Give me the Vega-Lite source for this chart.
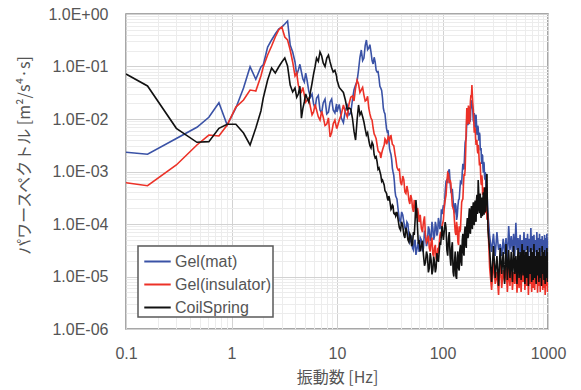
{
  "$schema": "https://vega.github.io/schema/vega-lite/v6.json",
  "width": 422,
  "height": 315,
  "autosize": {"type": "none"},
  "padding": {"left": 126, "top": 14, "right": 33, "bottom": 61},
  "background": "white",
  "config": {
    "font": "Liberation Sans",
    "view": {"stroke": "#8a8a8a", "strokeWidth": 1.5},
    "legend": {
      "orient": "bottom-left",
      "offset": 12,
      "strokeColor": "#5a5a5a",
      "strokeWidth": 1.5,
      "fillColor": "white",
      "padding": 1,
      "labelFont": "Liberation Sans",
      "labelFontSize": 16,
      "labelColor": "#555555",
      "symbolType": "stroke",
      "symbolStrokeWidth": 2,
      "symbolSize": 700,
      "symbolOffset": 4,
      "rowPadding": 0,
      "labelOffset": 3
    }
  },
  "data": {
    "values": [
      {"f": 0.1, "m": 2.32e-3, "i": 6.12e-4, "c": 7.2e-2},
      {"f": 0.16, "m": 2.13e-3, "i": 5.37e-4, "c": 4.26e-2},
      {"f": 0.3, "m": 4.26e-3, "i": 1.33e-3, "c": 6.65e-3},
      {"f": 0.47, "m": 6.95e-3, "i": 3.2e-3, "c": 3.6e-3},
      {"f": 0.61, "m": 1.08e-2, "i": 4.95e-3, "c": 3.7e-3},
      {"f": 0.76, "m": 2.04e-2, "i": 4.74e-3, "c": 6.65e-3},
      {"f": 0.91, "m": 7.69e-3, "i": 7.69e-3, "c": 7.92e-3},
      {"f": 1.1, "m": 1.62e-2, "i": 1.69e-2, "c": 7.92e-3},
      {"f": 1.3, "m": 3.89e-2, "i": 2.3e-2, "c": 5.41e-3},
      {"f": 1.5, "m": 9.9e-2, "i": 3.56e-2, "c": 3.2e-3},
      {"f": 1.7, "m": 5.7e-2, "i": 3.41e-2, "c": 6.74e-3},
      {"f": 1.9, "m": 9.78e-2, "i": 6.59e-2, "c": 1.42e-2},
      {"f": 2.0, "m": 0.107, "i": 9.78e-2, "c": 2.51e-2},
      {"f": 2.2, "m": 0.235, "i": 0.166, "c": 5.53e-2},
      {"f": 2.4, "m": 0.32, "i": 0.246, "c": 9.36e-2},
      {"f": 2.6, "m": 0.416, "i": 0.365, "c": 7.52e-2},
      {"f": 2.8, "m": 0.518, "i": 0.496, "c": 9.78e-2},
      {"f": 3.0, "m": 0.565, "i": 0.565, "c": 0.122},
      {"f": 3.2, "m": 0.645, "i": 0.365, "c": 0.145},
      {"f": 3.4, "m": 0.736, "i": 0.32, "c": 0.102},
      {"f": 3.6, "m": 0.257, "i": 0.206, "c": 4.44e-2},
      {"f": 3.8, "m": 0.189, "i": 0.122, "c": 3.27e-2},
      {"f": 4.0, "m": 0.122, "i": 6.59e-2, "c": 3.89e-2},
      {"f": 4.15, "m": 0.068, "i": 0.075, "c": 0.026},
      {"f": 4.3, "m": 8.58e-2, "i": 4.44e-2, "c": 2.99e-2},
      {"f": 4.45, "m": 0.11, "i": 0.036, "c": 0.042},
      {"f": 4.6, "m": 7.85e-2, "i": 3.27e-2, "c": 1.04e-2},
      {"f": 4.75, "m": 0.058, "i": 0.04, "c": 0.016},
      {"f": 4.9, "m": 5.07e-2, "i": 2.87e-2, "c": 2.11e-2},
      {"f": 5.05, "m": 0.075, "i": 0.021, "c": 0.03},
      {"f": 5.2, "m": 5.53e-2, "i": 2.3e-2, "c": 2.51e-2},
      {"f": 5.4, "m": 0.034, "i": 0.025, "c": 0.021},
      {"f": 5.6, "m": 2.62e-2, "i": 1.69e-2, "c": 3.27e-2},
      {"f": 5.8, "m": 0.03, "i": 0.012, "c": 0.048},
      {"f": 6.0, "m": 1.93e-2, "i": 1.36e-2, "c": 7.2e-2},
      {"f": 6.2, "m": 0.016, "i": 0.019, "c": 0.1},
      {"f": 6.4, "m": 2.51e-2, "i": 1.48e-2, "c": 0.145},
      {"f": 6.65, "m": 0.028, "i": 0.011, "c": 0.125},
      {"f": 6.9, "m": 1.48e-2, "i": 9.57e-3, "c": 0.189},
      {"f": 7.15, "m": 0.013, "i": 0.014, "c": 0.16},
      {"f": 7.4, "m": 2.02e-2, "i": 1.09e-2, "c": 0.117},
      {"f": 7.7, "m": 0.024, "i": 0.0075, "c": 0.1},
      {"f": 8.0, "m": 1.25e-2, "i": 8.03e-3, "c": 0.145},
      {"f": 8.3, "m": 0.0135, "i": 0.0105, "c": 0.165},
      {"f": 8.6, "m": 2.11e-2, "i": 4.54e-3, "c": 0.122},
      {"f": 8.9, "m": 0.024, "i": 0.0055, "c": 0.095},
      {"f": 9.2, "m": 1.48e-2, "i": 8.03e-3, "c": 7.85e-2},
      {"f": 9.55, "m": 0.013, "i": 0.0095, "c": 0.085},
      {"f": 9.9, "m": 1.93e-2, "i": 6.74e-3, "c": 6.59e-2},
      {"f": 10, "m": 1.36e-2, "i": 6.74e-3, "c": 5.53e-2},
      {"f": 10.5, "m": 0.019, "i": 0.0095, "c": 0.04},
      {"f": 11, "m": 1.045e-2, "i": 1.245e-2, "c": 3.57e-2},
      {"f": 11.5, "m": 0.0085, "i": 0.0185, "c": 0.032},
      {"f": 12, "m": 1.48e-2, "i": 1.36e-2, "c": 2.3e-2},
      {"f": 12.5, "m": 0.018, "i": 0.011, "c": 0.015},
      {"f": 13, "m": 1.19e-2, "i": 1.93e-2, "c": 1.62e-2},
      {"f": 13.5, "m": 0.013, "i": 0.026, "c": 0.0155},
      {"f": 14, "m": 2.3e-2, "i": 2.74e-2, "c": 1.045e-2},
      {"f": 14.5, "m": 0.036, "i": 0.022, "c": 0.0058},
      {"f": 15, "m": 4.44e-2, "i": 3.89e-2, "c": 3.98e-3},
      {"f": 15.5, "m": 0.052, "i": 0.055, "c": 0.0095},
      {"f": 16, "m": 8.58e-2, "i": 4.64e-2, "c": 1.85e-2},
      {"f": 16.5, "m": 0.15, "i": 0.032, "c": 0.012},
      {"f": 17, "m": 0.206, "i": 3.57e-2, "c": 1.36e-2},
      {"f": 17.5, "m": 0.13, "i": 0.04, "c": 0.011},
      {"f": 18, "m": 0.145, "i": 2.86e-2, "c": 8.77e-3},
      {"f": 18.5, "m": 0.25, "i": 0.022, "c": 0.0065},
      {"f": 19, "m": 0.32, "i": 2.3e-2, "c": 4.96e-3},
      {"f": 19.5, "m": 0.21, "i": 0.027, "c": 0.0055},
      {"f": 20, "m": 0.225, "i": 1.62e-2, "c": 3.98e-3},
      {"f": 20.5, "m": 0.26, "i": 0.0125, "c": 0.0031},
      {"f": 21, "m": 0.189, "i": 1.045e-2, "c": 2.8e-3},
      {"f": 21.5, "m": 0.13, "i": 0.0095, "c": 0.0036},
      {"f": 22, "m": 0.112, "i": 6.74e-3, "c": 3.2e-3},
      {"f": 22.5, "m": 0.15, "i": 0.0052, "c": 0.0021},
      {"f": 23, "m": 0.122, "i": 4.74e-3, "c": 1.81e-3},
      {"f": 23.5, "m": 0.085, "i": 0.0042, "c": 0.0019},
      {"f": 24, "m": 7.85e-2, "i": 3.2e-3, "c": 1.52e-3},
      {"f": 24.5, "m": 0.08, "i": 0.0025, "c": 0.0011},
      {"f": 25, "m": 6.04e-2, "i": 2.35e-3, "c": 1.17e-3},
      {"f": 25.5, "m": 0.042, "i": 0.0023, "c": 0.001},
      {"f": 26, "m": 3.89e-2, "i": 1.81e-3, "c": 8.58e-4},
      {"f": 26.5, "m": 0.035, "i": 0.0022, "c": 0.00065},
      {"f": 27, "m": 2.51e-2, "i": 2.57e-3, "c": 6.89e-4},
      {"f": 27.5, "m": 0.016, "i": 0.0029, "c": 0.00062},
      {"f": 28, "m": 1.36e-2, "i": 3.2e-3, "c": 5.53e-4},
      {"f": 28.5, "m": 0.0125, "i": 0.0042, "c": 0.00043},
      {"f": 29, "m": 8.77e-3, "i": 3.98e-3, "c": 4.07e-4},
      {"f": 29.5, "m": 0.0065, "i": 0.0033, "c": 0.00038},
      {"f": 30, "m": 5.65e-3, "i": 3.65e-3, "c": 3.13e-4},
      {"f": 30.5, "m": 0.0058, "i": 0.0046, "c": 0.00028},
      {"f": 31, "m": 3.98e-3, "i": 4.35e-3, "c": 3.41e-4},
      {"f": 31.5, "m": 0.0027, "i": 0.004, "c": 0.0003},
      {"f": 32, "m": 2.35e-3, "i": 4.74e-3, "c": 2.4e-4},
      {"f": 32.5, "m": 0.0021, "i": 0.0048, "c": 0.00019},
      {"f": 33, "m": 1.66e-3, "i": 3.98e-3, "c": 2.02e-4},
      {"f": 33.5, "m": 0.00115, "i": 0.0033, "c": 0.00023},
      {"f": 34, "m": 9.78e-4, "i": 3.2e-3, "c": 2.2e-4},
      {"f": 34.5, "m": 0.00085, "i": 0.0031, "c": 0.00016},
      {"f": 35, "m": 6.31e-4, "i": 2.57e-3, "c": 1.55e-4},
      {"f": 35.5, "m": 0.00042, "i": 0.0021, "c": 0.00016},
      {"f": 36, "m": 3.41e-4, "i": 1.81e-3, "c": 1.42e-4},
      {"f": 37, "m": 0.0003, "i": 0.0012, "c": 0.00017},
      {"f": 38, "m": 1.85e-4, "i": 1.07e-3, "c": 1.19e-4},
      {"f": 39, "m": 0.00012, "i": 0.0011, "c": 0.000085},
      {"f": 40, "m": 1.09e-4, "i": 6.31e-4, "c": 7.69e-5},
      {"f": 41, "m": 0.00017, "i": 0.00055, "c": 0.00011},
      {"f": 42, "m": 1.48e-4, "i": 8.2e-4, "c": 9.16e-5},
      {"f": 43, "m": 0.00011, "i": 0.0007, "c": 0.000062},
      {"f": 44, "m": 8.39e-5, "i": 4.07e-4, "c": 5.41e-5},
      {"f": 45, "m": 0.000075, "i": 0.00038, "c": 0.000085},
      {"f": 46, "m": 1.09e-4, "i": 5.29e-4, "c": 7.04e-5},
      {"f": 47, "m": 0.0001, "i": 0.00042, "c": 0.00005},
      {"f": 48, "m": 6.17e-5, "i": 2.86e-4, "c": 4.54e-5},
      {"f": 49, "m": 0.000045, "i": 0.00024, "c": 0.000065},
      {"f": 50, "m": 4.96e-5, "i": 3.57e-4, "c": 5.91e-5},
      {"f": 51, "m": 0.00006, "i": 0.0003, "c": 0.000038},
      {"f": 52, "m": 3.49e-5, "i": 2.02e-4, "c": 4.16e-5},
      {"f": 53, "m": 0.000032, "i": 0.00017, "c": 0.00007},
      {"f": 54, "m": 4.54e-5, "i": 2.86e-4, "c": 6.17e-5},
      {"f": 55, "m": 0.00005, "i": 0.00022, "c": 0.00012},
      {"f": 56, "m": 2.57e-5, "i": 1.55e-4, "c": 2.86e-4},
      {"f": 57, "m": 0.000032, "i": 0.00013, "c": 0.00018},
      {"f": 58, "m": 3.81e-5, "i": 2.02e-4, "c": 8.39e-5},
      {"f": 59, "m": 0.000045, "i": 0.00016, "c": 0.000042},
      {"f": 60, "m": 2.93e-5, "i": 1.09e-4, "c": 4.96e-5},
      {"f": 61.5, "m": 0.000055, "i": 0.00015, "c": 0.00003},
      {"f": 63, "m": 4.96e-5, "i": 8.39e-5, "c": 3.81e-5},
      {"f": 64.5, "m": 0.00003, "i": 0.00007, "c": 0.000048},
      {"f": 66, "m": 3.49e-5, "i": 1.09e-4, "c": 2.57e-5},
      {"f": 67.5, "m": 0.000075, "i": 0.00014, "c": 0.000016},
      {"f": 69, "m": 5.91e-5, "i": 5.91e-5, "c": 1.89e-5},
      {"f": 70.5, "m": 0.000038, "i": 0.000045, "c": 0.00003},
      {"f": 72, "m": 4.54e-5, "i": 4.96e-5, "c": 2.46e-5},
      {"f": 73.5, "m": 0.00009, "i": 0.00006, "c": 0.000012},
      {"f": 75, "m": 7.69e-5, "i": 3.49e-5, "c": 1.45e-5},
      {"f": 76.5, "m": 0.000048, "i": 0.00003, "c": 0.000028},
      {"f": 78, "m": 5.41e-5, "i": 4.54e-5, "c": 2.06e-5},
      {"f": 79.5, "m": 0.00011, "i": 0.000055, "c": 0.000011},
      {"f": 81, "m": 8.39e-5, "i": 2.68e-5, "c": 1.33e-5},
      {"f": 82.5, "m": 0.00005, "i": 0.000024, "c": 0.000024},
      {"f": 84, "m": 5.91e-5, "i": 3.49e-5, "c": 1.89e-5},
      {"f": 85.5, "m": 0.00011, "i": 0.00004, "c": 0.000012},
      {"f": 87, "m": 9.16e-5, "i": 2.25e-5, "c": 1.45e-5},
      {"f": 88.5, "m": 0.00006, "i": 0.00002, "c": 0.000028},
      {"f": 90, "m": 7.04e-5, "i": 3.2e-5, "c": 2.25e-5},
      {"f": 91.5, "m": 0.00013, "i": 0.00003, "c": 0.000019},
      {"f": 93, "m": 1.09e-4, "i": 4.16e-5, "c": 2.93e-5},
      {"f": 94.5, "m": 0.00008, "i": 0.00006, "c": 0.000045},
      {"f": 96, "m": 9.16e-5, "i": 7.04e-5, "c": 3.98e-5},
      {"f": 97.5, "m": 0.00019, "i": 0.000055, "c": 0.00006},
      {"f": 99, "m": 1.55e-4, "i": 9.16e-5, "c": 9.16e-5},
      {"f": 102, "m": 2.3e-4, "i": 1.19e-4, "c": 4.96e-5},
      {"f": 104, "m": 2.0e-4, "i": 2.2e-4, "c": 7.5e-5},
      {"f": 106, "m": 4.07e-4, "i": 2.86e-4, "c": 1.09e-4},
      {"f": 108, "m": 6.5e-4, "i": 3.5e-4, "c": 8.5e-5},
      {"f": 110, "m": 6.89e-4, "i": 6.31e-4, "c": 3.2e-5},
      {"f": 112, "m": 6.0e-4, "i": 9.5e-4, "c": 2.5e-5},
      {"f": 114, "m": 9.78e-4, "i": 8.96e-4, "c": 5.41e-5},
      {"f": 116, "m": 1.1e-3, "i": 6.0e-4, "c": 7.0e-5},
      {"f": 118, "m": 6.31e-4, "i": 6.89e-4, "c": 2.46e-5},
      {"f": 120, "m": 4.2e-4, "i": 6.0e-4, "c": 1.6e-5},
      {"f": 122, "m": 4.44e-4, "i": 3.57e-4, "c": 3.49e-5},
      {"f": 124, "m": 4.5e-4, "i": 2.2e-4, "c": 4.5e-5},
      {"f": 126, "m": 2.86e-4, "i": 2.02e-4, "c": 1.22e-5},
      {"f": 128, "m": 1.8e-4, "i": 1.8e-4, "c": 1.0e-5},
      {"f": 130, "m": 1.69e-4, "i": 1.09e-4, "c": 1.89e-5},
      {"f": 132, "m": 2.5e-4, "i": 7.0e-5, "c": 3.0e-5},
      {"f": 134, "m": 2.2e-4, "i": 6.17e-5, "c": 1.02e-5},
      {"f": 136, "m": 1.2e-4, "i": 1.1e-4, "c": 9.0e-6},
      {"f": 138, "m": 1.42e-4, "i": 8.39e-5, "c": 2.25e-5},
      {"f": 140, "m": 2.2e-4, "i": 4.5e-5, "c": 3.0e-5},
      {"f": 142, "m": 2.86e-4, "i": 3.98e-5, "c": 1.45e-5},
      {"f": 144, "m": 3.0e-4, "i": 9.0e-5, "c": 1.3e-5},
      {"f": 146, "m": 4.44e-4, "i": 7.04e-5, "c": 3.2e-5},
      {"f": 148, "m": 6.5e-4, "i": 8.0e-5, "c": 4.0e-5},
      {"f": 150, "m": 6.31e-4, "i": 1.48e-4, "c": 1.89e-5},
      {"f": 152, "m": 6.0e-4, "i": 2.6e-4, "c": 1.6e-5},
      {"f": 154, "m": 9.78e-4, "i": 2.86e-4, "c": 4.96e-5},
      {"f": 156, "m": 1.4e-3, "i": 3.0e-4, "c": 6.5e-5},
      {"f": 158, "m": 1.17e-3, "i": 5.53e-4, "c": 2.93e-5},
      {"f": 160, "m": 1.1e-3, "i": 9.0e-4, "c": 2.5e-5},
      {"f": 162, "m": 2.06e-3, "i": 8.2e-4, "c": 7.04e-5},
      {"f": 164, "m": 3.6e-3, "i": 1.1e-3, "c": 9.0e-5},
      {"f": 166, "m": 3.98e-3, "i": 2.57e-3, "c": 3.98e-5},
      {"f": 168, "m": 4.5e-3, "i": 7.0e-3, "c": 3.5e-5},
      {"f": 170, "m": 1.045e-2, "i": 1.62e-2, "c": 9.57e-5},
      {"f": 172, "m": 1.4e-2, "i": 8.0e-3, "c": 1.3e-4},
      {"f": 174, "m": 7.69e-3, "i": 9.57e-3, "c": 5.41e-5},
      {"f": 176, "m": 8.5e-3, "i": 1.8e-2, "c": 6.0e-5},
      {"f": 178, "m": 1.48e-2, "i": 1.36e-2, "c": 1.48e-4},
      {"f": 180, "m": 1.7e-2, "i": 8.0e-3, "c": 2.0e-4},
      {"f": 182, "m": 8.77e-3, "i": 1.045e-2, "c": 7.04e-5},
      {"f": 184, "m": 1.0e-2, "i": 2.2e-2, "c": 6.5e-5},
      {"f": 186, "m": 1.93e-2, "i": 2.86e-2, "c": 1.69e-4},
      {"f": 188, "m": 1.6e-2, "i": 2.6e-2, "c": 2.2e-4},
      {"f": 190, "m": 2.3e-2, "i": 4.44e-2, "c": 9.16e-5},
      {"f": 192, "m": 1.9e-2, "i": 2.8e-2, "c": 8.0e-5},
      {"f": 194, "m": 1.36e-2, "i": 1.85e-2, "c": 2.02e-4},
      {"f": 196, "m": 9.0e-3, "i": 1.5e-2, "c": 2.6e-4},
      {"f": 198, "m": 1.045e-2, "i": 8.77e-3, "c": 1.09e-4},
      {"f": 200, "m": 1.3e-2, "i": 5.5e-3, "c": 9.5e-5},
      {"f": 202, "m": 6.74e-3, "i": 6.74e-3, "c": 2.3e-4},
      {"f": 204, "m": 7.0e-3, "i": 6.5e-3, "c": 2.8e-4},
      {"f": 206, "m": 1.14e-2, "i": 4.35e-3, "c": 1.3e-4},
      {"f": 208, "m": 1.2e-2, "i": 3.2e-3, "c": 1.1e-4},
      {"f": 210, "m": 8.03e-3, "i": 3.65e-3, "c": 2.86e-4},
      {"f": 212, "m": 5.0e-3, "i": 4.0e-3, "c": 3.6e-4},
      {"f": 214, "m": 5.65e-3, "i": 2.57e-3, "c": 1.55e-4},
      {"f": 216, "m": 7.5e-3, "i": 2.2e-3, "c": 2.0e-4},
      {"f": 218, "m": 6.74e-3, "i": 3.2e-3, "c": 6.89e-4},
      {"f": 220, "m": 4.0e-3, "i": 2.8e-3, "c": 4.5e-4},
      {"f": 222, "m": 3.98e-3, "i": 1.81e-3, "c": 2.02e-4},
      {"f": 224, "m": 5.5e-3, "i": 1.3e-3, "c": 1.6e-4},
      {"f": 226, "m": 4.96e-3, "i": 1.52e-3, "c": 3.41e-4},
      {"f": 228, "m": 2.6e-3, "i": 1.4e-3, "c": 3.8e-4},
      {"f": 230, "m": 2.57e-3, "i": 8.58e-4, "c": 1.69e-4},
      {"f": 232, "m": 2.8e-3, "i": 6.0e-4, "c": 1.3e-4},
      {"f": 234, "m": 1.66e-3, "i": 5.53e-4, "c": 2.62e-4},
      {"f": 236, "m": 1.4e-3, "i": 8.5e-4, "c": 3.2e-4},
      {"f": 238, "m": 2.06e-3, "i": 6.89e-4, "c": 1.42e-4},
      {"f": 240, "m": 2.0e-3, "i": 3.6e-4, "c": 1.5e-4},
      {"f": 242, "m": 1.17e-3, "i": 4.07e-4, "c": 3.13e-4},
      {"f": 244, "m": 9.5e-4, "i": 5.0e-4, "c": 4.0e-4},
      {"f": 246, "m": 1.52e-3, "i": 3.41e-4, "c": 1.85e-4},
      {"f": 248, "m": 1.4e-3, "i": 2.4e-4, "c": 1.5e-4},
      {"f": 250, "m": 8.58e-4, "i": 2.3e-4, "c": 4.44e-4},
      {"f": 252, "m": 7.0e-4, "i": 3.2e-4, "c": 5.0e-4},
      {"f": 254, "m": 9.78e-4, "i": 2.86e-4, "c": 1.69e-4},
      {"f": 256, "m": 8.5e-4, "i": 1.6e-4, "c": 1.8e-4},
      {"f": 258, "m": 5.53e-4, "i": 1.85e-4, "c": 3.57e-4},
      {"f": 260, "m": 3.5e-4, "i": 2.6e-4, "c": 5.0e-4},
      {"f": 262, "m": 4.44e-4, "i": 2.2e-4, "c": 8.58e-4},
      {"f": 264, "m": 4.5e-4, "i": 1.2e-4, "c": 9.0e-4},
      {"f": 266, "m": 2.86e-4, "i": 1.48e-4, "c": 2.3e-4},
      {"f": 268, "m": 2.0e-4, "i": 1.6e-4, "c": 1.5e-4},
      {"f": 270, "m": 1.48e-4, "i": 9.57e-5, "c": 7.69e-5},
      {"f": 280, "m": 5.91e-5, "i": 1.45e-5, "c": 3.2e-5},
      {"f": 292, "m": 2.93e-5, "i": 5.53e-6, "c": 7.85e-6},
      {"f": 304, "m": 6.5e-5, "i": 1.89e-5, "c": 3.81e-5},
      {"f": 316, "m": 2.46e-5, "i": 7.2e-6, "c": 9.36e-6},
      {"f": 328, "m": 7.04e-5, "i": 1.22e-5, "c": 2.46e-5},
      {"f": 340, "m": 3.2e-5, "i": 4.44e-6, "c": 6.59e-6},
      {"f": 352, "m": 4.16e-5, "i": 2.25e-5, "c": 3.49e-5},
      {"f": 364, "m": 2.46e-5, "i": 6.04e-6, "c": 1.12e-5},
      {"f": 376, "m": 5.2e-5, "i": 1.33e-5, "c": 2.93e-5},
      {"f": 388, "m": 2.68e-5, "i": 7.85e-6, "c": 7.2e-6},
      {"f": 400, "m": 5.41e-5, "i": 1.66e-5, "c": 4.16e-5},
      {"f": 412, "m": 2.06e-5, "i": 5.07e-6, "c": 8.58e-6},
      {"f": 424, "m": 9.16e-5, "i": 1.45e-5, "c": 3.2e-5},
      {"f": 436, "m": 3.2e-5, "i": 6.59e-6, "c": 9.36e-6},
      {"f": 448, "m": 5.91e-5, "i": 2.06e-5, "c": 2.93e-5},
      {"f": 460, "m": 2.93e-5, "i": 5.53e-6, "c": 7.85e-6},
      {"f": 472, "m": 6.5e-5, "i": 1.22e-5, "c": 3.81e-5},
      {"f": 484, "m": 2.46e-5, "i": 7.2e-6, "c": 1.12e-5},
      {"f": 496, "m": 1.05e-4, "i": 1.89e-5, "c": 2.46e-5},
      {"f": 508, "m": 3.2e-5, "i": 4.9e-6, "c": 7.2e-6},
      {"f": 520, "m": 5.41e-5, "i": 1.33e-5, "c": 3.49e-5},
      {"f": 532, "m": 2.68e-5, "i": 6.04e-6, "c": 9.36e-6},
      {"f": 544, "m": 6.2e-5, "i": 1.66e-5, "c": 2.93e-5},
      {"f": 556, "m": 2.46e-5, "i": 5.07e-6, "c": 8.58e-6},
      {"f": 568, "m": 4.96e-5, "i": 1.45e-5, "c": 4.16e-5},
      {"f": 580, "m": 2.93e-5, "i": 7.85e-6, "c": 1.05e-5},
      {"f": 592, "m": 7.04e-5, "i": 2.25e-5, "c": 3.2e-5},
      {"f": 604, "m": 2.68e-5, "i": 5.53e-6, "c": 7.2e-6},
      {"f": 616, "m": 5.41e-5, "i": 1.22e-5, "c": 2.93e-5},
      {"f": 628, "m": 3.2e-5, "i": 6.59e-6, "c": 9.36e-6},
      {"f": 640, "m": 6.5e-5, "i": 1.89e-5, "c": 3.81e-5},
      {"f": 652, "m": 2.46e-5, "i": 4.44e-6, "c": 6.59e-6},
      {"f": 664, "m": 5.2e-5, "i": 1.33e-5, "c": 2.46e-5},
      {"f": 676, "m": 2.93e-5, "i": 7.2e-6, "c": 1.12e-5},
      {"f": 688, "m": 8.4e-5, "i": 1.66e-5, "c": 3.49e-5},
      {"f": 700, "m": 2.68e-5, "i": 5.07e-6, "c": 7.85e-6},
      {"f": 712, "m": 5.91e-5, "i": 1.45e-5, "c": 2.93e-5},
      {"f": 724, "m": 3.2e-5, "i": 6.04e-6, "c": 8.58e-6},
      {"f": 736, "m": 6.2e-5, "i": 2.06e-5, "c": 4.16e-5},
      {"f": 748, "m": 2.46e-5, "i": 5.53e-6, "c": 9.36e-6},
      {"f": 760, "m": 4.96e-5, "i": 1.22e-5, "c": 2.46e-5},
      {"f": 772, "m": 2.93e-5, "i": 7.85e-6, "c": 7.2e-6},
      {"f": 784, "m": 7.04e-5, "i": 1.66e-5, "c": 3.2e-5},
      {"f": 796, "m": 2.68e-5, "i": 4.9e-6, "c": 1.05e-5},
      {"f": 808, "m": 5.41e-5, "i": 1.33e-5, "c": 2.93e-5},
      {"f": 820, "m": 3.2e-5, "i": 6.59e-6, "c": 7.85e-6},
      {"f": 832, "m": 6.5e-5, "i": 1.89e-5, "c": 3.49e-5},
      {"f": 844, "m": 2.46e-5, "i": 5.07e-6, "c": 9.36e-6},
      {"f": 856, "m": 5.2e-5, "i": 1.45e-5, "c": 2.46e-5},
      {"f": 868, "m": 2.93e-5, "i": 7.2e-6, "c": 6.59e-6},
      {"f": 880, "m": 5.91e-5, "i": 2.25e-5, "c": 3.81e-5},
      {"f": 892, "m": 2.68e-5, "i": 5.53e-6, "c": 1.12e-5},
      {"f": 904, "m": 4.96e-5, "i": 1.22e-5, "c": 2.93e-5},
      {"f": 916, "m": 3.2e-5, "i": 6.04e-6, "c": 8.58e-6},
      {"f": 928, "m": 6.2e-5, "i": 1.66e-5, "c": 3.2e-5},
      {"f": 940, "m": 2.46e-5, "i": 4.44e-6, "c": 7.2e-6},
      {"f": 952, "m": 5.41e-5, "i": 1.33e-5, "c": 2.46e-5},
      {"f": 964, "m": 2.93e-5, "i": 6.59e-6, "c": 9.36e-6},
      {"f": 976, "m": 6.5e-5, "i": 1.89e-5, "c": 3.49e-5},
      {"f": 988, "m": 2.68e-5, "i": 5.07e-6, "c": 7.85e-6},
      {"f": 1000, "m": 5.2e-5, "i": 1.45e-5, "c": 2.93e-5}
    ]
  },
  "transform": [
    {"fold": ["m", "i", "c"], "as": ["k", "p"]},
    {"filter": "isValid(datum.p)"}
  ],
  "encoding": {
    "x": {
      "field": "f",
      "type": "quantitative",
      "scale": {"type": "log", "domain": [0.1, 1000], "nice": false},
      "axis": {
        "values": [0.1, 0.2, 0.3, 0.4, 0.5, 0.6, 0.7, 0.8, 0.9, 1, 2, 3, 4, 5, 6, 7, 8, 9, 10, 20, 30, 40, 50, 60, 70, 80, 90, 100, 200, 300, 400, 500, 600, 700, 800, 900, 1000],
        "labelExpr": "abs(log(datum.value)/LN10 - round(log(datum.value)/LN10)) < 0.001 ? '' + datum.value : ''",
        "gridColor": {"condition": {"test": "abs(log(datum.value)/LN10 - round(log(datum.value)/LN10)) < 0.001", "value": "#d2d2d2"}, "value": "#ececec"},
        "gridWidth": 1,
        "ticks": false,
        "domain": false,
        "labelOverlap": false,
        "labelFlush": false,
        "labelPadding": 16,
        "labelFontSize": 16,
        "labelColor": "#555555",
        "title": "振動数 [Hz]",
        "titleFont": "Noto Sans CJK JP",
        "titleFontSize": 16,
        "titleFontWeight": "normal",
        "titleColor": "#555555",
        "titleY": 48,
        "titleBaseline": "middle"
      }
    },
    "y": {
      "field": "p",
      "type": "quantitative",
      "scale": {"type": "log", "domain": [1e-6, 1], "nice": false},
      "axis": {
        "values": [1e-6, 2e-6, 3e-6, 4e-6, 5e-6, 6e-6, 7e-6, 8e-6, 9e-6, 1e-5, 2e-5, 3e-5, 4e-5, 5e-5, 6e-5, 7e-5, 8e-5, 9e-5, 1e-4, 2e-4, 3e-4, 4e-4, 5e-4, 6e-4, 7e-4, 8e-4, 9e-4, 1e-3, 2e-3, 3e-3, 4e-3, 5e-3, 6e-3, 7e-3, 8e-3, 9e-3, 1e-2, 2e-2, 3e-2, 4e-2, 5e-2, 6e-2, 7e-2, 8e-2, 9e-2, 0.1, 0.2, 0.3, 0.4, 0.5, 0.6, 0.7, 0.8, 0.9, 1],
        "labelExpr": "abs(log(datum.value)/LN10 - round(log(datum.value)/LN10)) < 0.001 ? '1.0E' + (round(log(datum.value)/LN10) < 0 ? '-' : '+') + '0' + abs(round(log(datum.value)/LN10)) : ''",
        "gridColor": {"condition": {"test": "abs(log(datum.value)/LN10 - round(log(datum.value)/LN10)) < 0.001", "value": "#d2d2d2"}, "value": "#ececec"},
        "gridWidth": 1,
        "ticks": false,
        "domain": false,
        "labelOverlap": false,
        "labelFlush": false,
        "labelPadding": 18,
        "labelFontSize": 16,
        "labelColor": "#555555",
        "title": "パワースペクトル [m²/s⁴·s]",
        "titleFont": "Noto Sans CJK JP",
        "titleFontSize": 16,
        "titleFontWeight": "normal",
        "titleColor": "#555555",
        "titleX": -102,
        "titleY": 141,
        "titleAngle": -90,
        "titleAlign": "center",
        "titleBaseline": "middle"
      }
    },
    "color": {
      "field": "k",
      "type": "nominal",
      "scale": {"domain": ["m", "i", "c"], "range": ["#3a52a6", "#ec3127", "#111111"]},
      "legend": {
        "title": null,
        "labelExpr": "datum.label == 'm' ? 'Gel(mat)' : datum.label == 'i' ? 'Gel(insulator)' : 'CoilSpring'"
      }
    }
  },
  "layer": [
    {"transform": [{"filter": "datum.k == 'm'"}], "mark": {"type": "line", "strokeWidth": 1.6, "clip": true}},
    {"transform": [{"filter": "datum.k == 'i'"}], "mark": {"type": "line", "strokeWidth": 1.6, "clip": true}},
    {"transform": [{"filter": "datum.k == 'c'"}], "mark": {"type": "line", "strokeWidth": 1.6, "clip": true}}
  ]
}
